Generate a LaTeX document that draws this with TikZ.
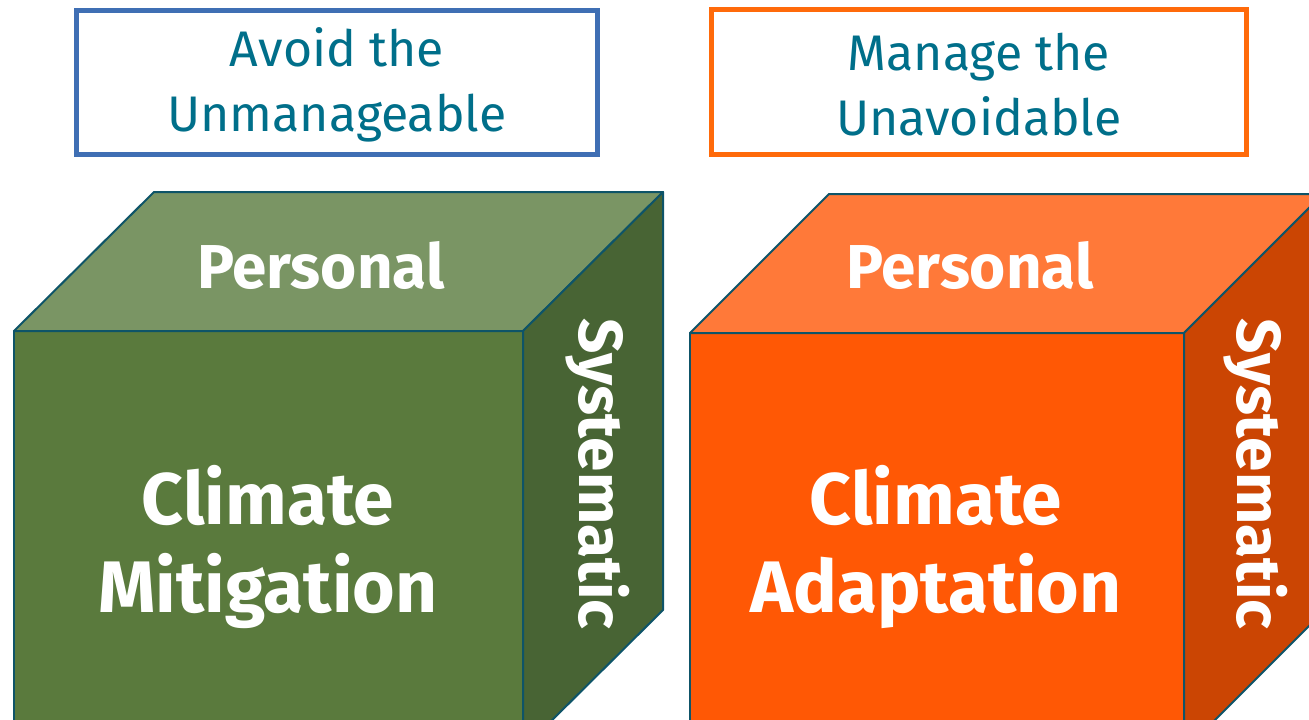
\documentclass[tikz,border=0pt]{standalone}
\usepackage{fontspec}
\setmainfont{Fira Sans}
\definecolor{boxblue}{HTML}{3F6FB4}
\definecolor{boxorange}{HTML}{FF6A0A}
\definecolor{headteal}{HTML}{006F8A}
\definecolor{edgeteal}{HTML}{0E5468}
\definecolor{greenfront}{HTML}{5A7A3D}
\definecolor{greentop}{HTML}{7A9564}
\definecolor{greenside}{HTML}{486434}
\definecolor{orangefront}{HTML}{FF5805}
\definecolor{orangetop}{HTML}{FF7939}
\definecolor{orangeside}{HTML}{CB4503}
\begin{document}
\begin{tikzpicture}[x=1pt, y=-1pt,
  goalbox/.style={draw, line width=5pt, fill=white},
  goaltext/.style={text=headteal, align=center, font=\fontsize{50}{65}\selectfont},
  cubeedge/.style={draw=edgeteal, line width=2pt, line join=round},
  facelabel/.style={text=white, align=center, font=\bfseries\fontsize{62}{62}\selectfont},
  frontlabel/.style={text=white, align=center, font=\bfseries\fontsize{73}{88}\selectfont}]
  \useasboundingbox (0, 0) rectangle (1309, 720);
  \clip (0, 0) rectangle (1309, 720);
  % goal boxes
  \node[goalbox, draw=boxblue, minimum width=521pt, minimum height=144pt] (avoid) at (337, 82.5) {};
  \node[goaltext] (avoidtxt) at (337, 85) {Avoid the\\Unmanageable};
  \node[goalbox, draw=boxorange, minimum width=535pt, minimum height=145pt] (manage) at (979, 82) {};
  \node[goaltext] (managetxt) at (979, 85) {Manage the\\Unavoidable};
  % mitigation cube
  \draw[cubeedge, fill=greenfront] (14, 331) -- (523, 331) -- (523, 749) -- (14, 749) -- cycle;
  \draw[cubeedge, fill=greentop] (14, 331) -- (154, 192) -- (663, 192) -- (523, 331) -- cycle;
  \draw[cubeedge, fill=greenside] (523, 331) -- (663, 192) -- (663, 610) -- (523, 749) -- cycle;
  \node[facelabel] (perstop) at (321, 265) {Personal};
  \node[frontlabel] (mitig) at (268, 547) {Climate\\Mitigation};
  \node[facelabel, rotate=-90] (sysmitig) at (598, 474) {Systematic};
  % adaptation cube
  \draw[cubeedge, fill=orangefront] (690, 333) -- (1184, 333) -- (1184, 751) -- (690, 751) -- cycle;
  \draw[cubeedge, fill=orangetop] (690, 333) -- (829, 194) -- (1323, 194) -- (1184, 333) -- cycle;
  \draw[cubeedge, fill=orangeside] (1184, 333) -- (1323, 194) -- (1323, 612) -- (1184, 751) -- cycle;
  \node[facelabel] (persadapt) at (970, 265) {Personal};
  \node[frontlabel] (adapt) at (936, 547) {Climate\\Adaptation};
  \node[facelabel, rotate=-90] (sysadapt) at (1256, 474) {Systematic};
\end{tikzpicture}
\end{document}
